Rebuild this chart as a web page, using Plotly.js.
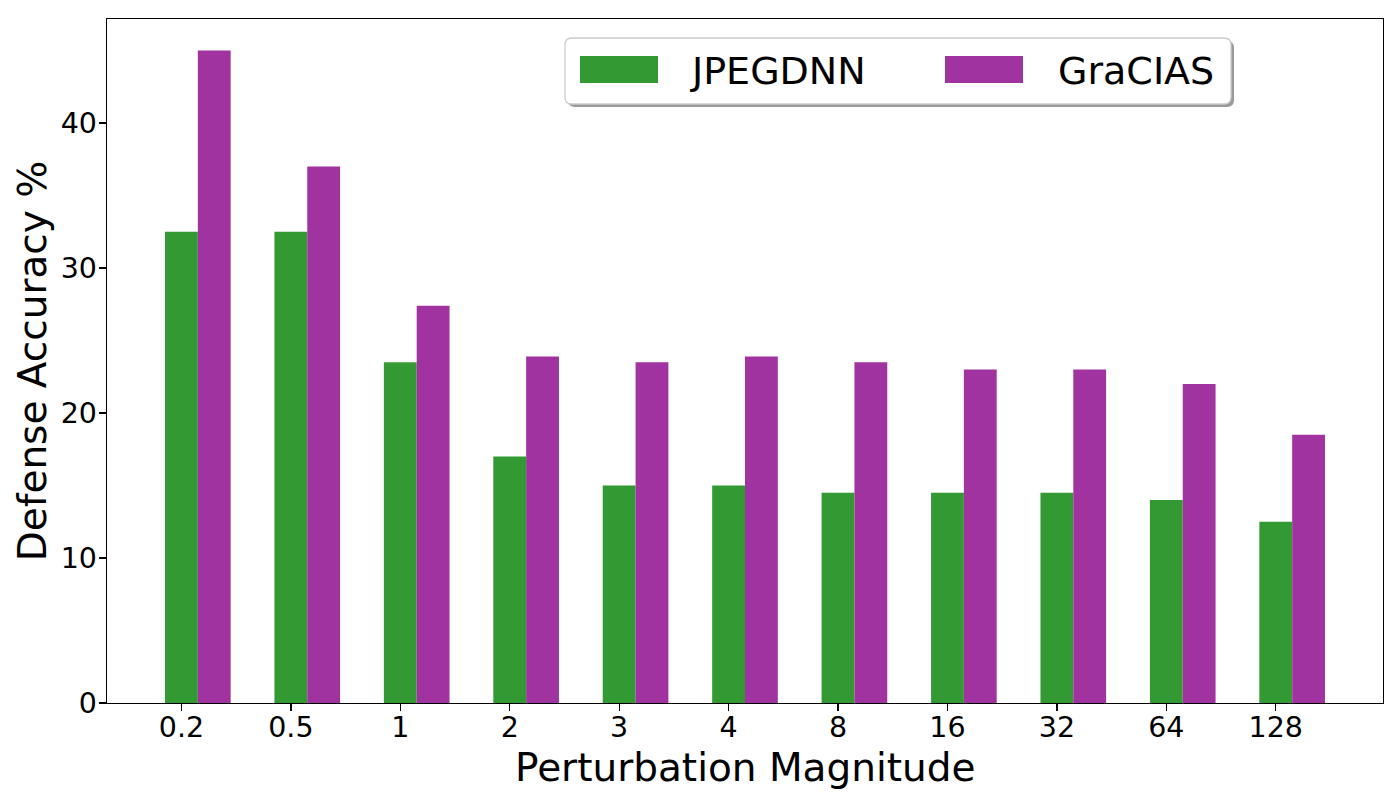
<!DOCTYPE html>
<html>
<head>
<meta charset="utf-8">
<script src="https://cdn.plot.ly/plotly-3.0.1.min.js"></script>
<style>
  html, body { margin: 0; padding: 0; background: #fff; }
  #plot { width: 1400px; height: 800px; }
</style>
</head>
<body>
<div id="plot"></div>
<script>
// perturbation magnitudes on the x axis
const magnitudes = ['0.2', '0.5', '1', '2', '3', '4', '8', '16', '32', '64', '128']
const jpegdnn = [32.5, 32.5, 23.5, 17, 15, 15, 14.5, 14.5, 14.5, 14, 12.5]
const gracias = [45, 37, 27.4, 23.9, 23.5, 23.9, 23.5, 23, 23, 22, 18.5]
const seriesNames = ['JPEGDNN', 'GraCIAS']
const xTitle = 'Perturbation Magnitude'
const yTitle = 'Defense Accuracy %'

const W = 1400, H = 800
const M = { l: 107, r: 17, t: 19, b: 97 }
const pw = W - M.l - M.r, ph = H - M.t - M.b
// pixel -> paper helpers for the hand drawn legend box
const px = x => (x - M.l) / pw
const py = y => (H - M.b - y) / ph

const font = 'DejaVu Sans, Liberation Sans, sans-serif'
const green = '#339933', purple = '#a133a1'

const data = [
  { type: 'bar', name: seriesNames[0], x: magnitudes, y: jpegdnn,
    width: 0.3, offset: -0.15, marker: { color: green, line: { width: 0 } } },
  { type: 'bar', name: seriesNames[1], x: magnitudes, y: gracias,
    width: 0.3, offset: 0.15, marker: { color: purple, line: { width: 0 } } }
]

function roundRect (x0, y0, x1, y1, r) {
  const a = px(x0), b = px(x1), c = py(y0), d = py(y1)
  const rx = r / pw, ry = r / ph
  return `M ${a + rx},${c} L ${b - rx},${c} Q ${b},${c} ${b},${c - ry} ` +
    `L ${b},${d + ry} Q ${b},${d} ${b - rx},${d} L ${a + rx},${d} ` +
    `Q ${a},${d} ${a},${d + ry} L ${a},${c - ry} Q ${a},${c} ${a + rx},${c} Z`
}

const box = { x0: 565, y0: 38, x1: 1231, y1: 104 }
const swatches = [[580, 658], [945, 1023]]
const labelX = [688, 1056]

const shapes = [
  { type: 'path', xref: 'paper', yref: 'paper', layer: 'above',
    path: roundRect(box.x0 + 3, box.y0 + 3, box.x1 + 3, box.y1 + 3, 7),
    fillcolor: '#9a9a9a', line: { width: 0 } },
  { type: 'path', xref: 'paper', yref: 'paper', layer: 'above',
    path: roundRect(box.x0, box.y0, box.x1, box.y1, 7),
    fillcolor: '#ffffff', line: { color: '#cccccc', width: 1.3 } }
]
const annotations = []
seriesNames.forEach((n, i) => {
  shapes.push({ type: 'rect', xref: 'paper', yref: 'paper', layer: 'above',
    x0: px(swatches[i][0]), x1: px(swatches[i][1]), y0: py(56), y1: py(83),
    fillcolor: [green, purple][i], line: { width: 0 } })
  annotations.push({ xref: 'paper', yref: 'paper', x: px(labelX[i]), y: py(71),
    xanchor: 'left', yanchor: 'middle', showarrow: false, text: n,
    font: { family: font, size: 38, color: '#000' } })
})
// x axis title sits closer to the tick labels than plotly's standoff allows
annotations.push({ xref: 'paper', yref: 'paper', x: 0.5, y: py(767),
  xanchor: 'center', yanchor: 'middle', showarrow: false, text: xTitle,
  font: { family: font, size: 39, color: '#000' } })

const layout = {
  width: W, height: H,
  margin: M,
  paper_bgcolor: '#fff', plot_bgcolor: '#fff',
  font: { family: font, color: '#000' },
  barmode: 'overlay',
  showlegend: false,
  xaxis: {
    type: 'category', range: [-0.68, 10.98], fixedrange: true,
    showline: true, mirror: true, linecolor: '#000', linewidth: 1.3,
    ticks: 'outside', ticklen: 7, tickwidth: 1.3, tickcolor: '#000',
    ticklabelstandoff: -9,
    showgrid: false, zeroline: false,
    tickfont: { family: font, size: 28.5 }
  },
  yaxis: {
    range: [0, 47.17], fixedrange: true,
    tickvals: [0, 10, 20, 30, 40],
    showline: true, mirror: true, linecolor: '#000', linewidth: 1.3,
    ticks: 'outside', ticklen: 7, tickwidth: 1.3, tickcolor: '#000',
    ticklabelstandoff: -4,
    showgrid: false, zeroline: false,
    tickfont: { family: font, size: 28.5 },
    title: { text: yTitle, font: { family: font, size: 39 }, standoff: 2 }
  },
  shapes: shapes,
  annotations: annotations
}

Plotly.newPlot('plot', data, layout, { staticPlot: true, displayModeBar: false })
</script>
</body>
</html>
